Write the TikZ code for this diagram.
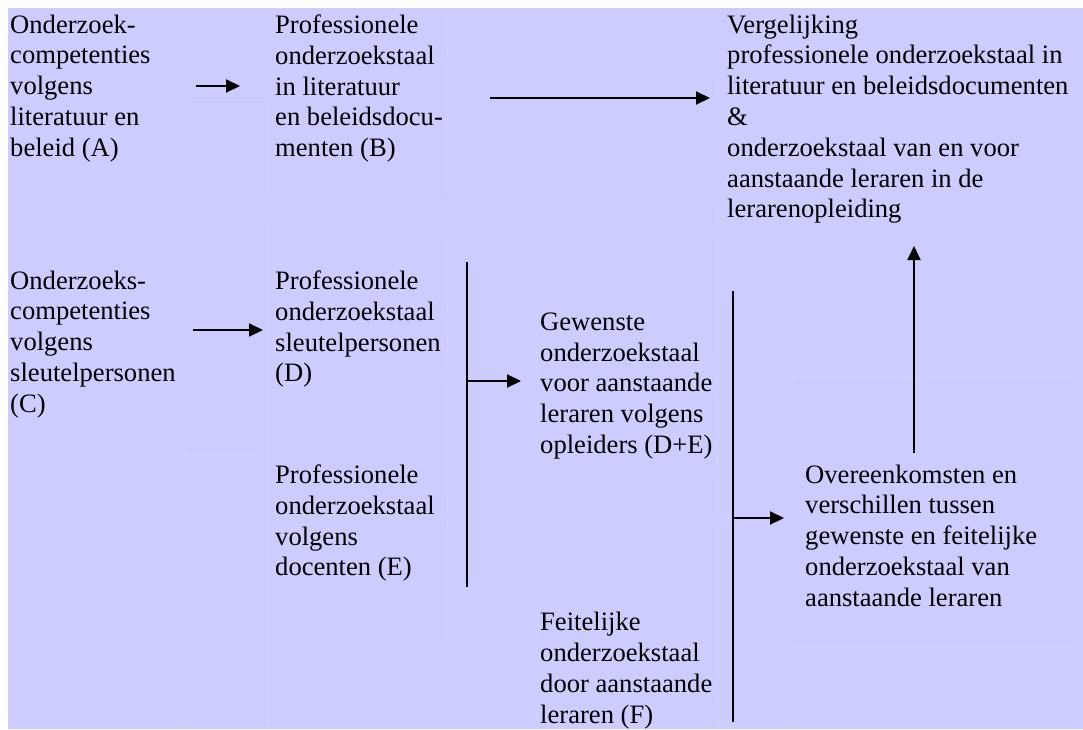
\documentclass[tikz,border=0pt]{standalone}
\usepackage{fontspec}
\setmainfont{Liberation Serif}
\usetikzlibrary{arrows.meta}
\definecolor{bgl}{HTML}{CCCCFF}
\definecolor{gridl}{HTML}{D2D2FF}
\begin{document}
\begin{tikzpicture}[x=1pt,y=-1pt,
  txt/.style={anchor=north west, inner sep=0pt, align=left, font=\fontsize{26.6}{30.8}\selectfont},
  conn/.style={line width=2pt, -{Triangle[length=14pt,width=13pt]}},
  bar/.style={line width=2pt},
  faint/.style={gridl, line width=0.8pt}]
\useasboundingbox (0,0) rectangle (1083,729);
\fill[bgl] (8,8) rectangle (1083,729);
% faint table cell boundaries
\draw[faint] (188,100) -- (267,100);
\draw[faint] (267,100) -- (267,192);
\draw[faint] (8,192) -- (447,192);
\draw[faint] (447,8) -- (447,192);
\draw[faint] (717,40) -- (717,227);
\draw[faint] (267,230) -- (267,455);
\draw[faint] (447,230) -- (447,640);
\draw[faint] (267,383) -- (447,383);
\draw[faint] (185,455) -- (267,455);
\draw[faint] (185,445) -- (185,729);
\draw[faint] (267,455) -- (267,729);
\draw[faint] (537,230) -- (537,729);
\draw[faint] (717,230) -- (717,729);
\draw[faint] (793,230) -- (793,729);
\draw[faint] (793,376) -- (1083,376);
\draw[faint] (793,646) -- (1083,646);
% text blocks
\node[txt] (A) at (10,14.5) {Onderzoek-\\competenties\\volgens\\literatuur en\\beleid (A)};
\node[txt] (B) at (275,14.5) {Professionele\\onderzoekstaal\\in literatuur\\en beleidsdocu-\\menten (B)};
\node[txt] (V) at (727,14.5) {Vergelijking\\professionele onderzoekstaal in\\literatuur en beleidsdocumenten\\\&\\onderzoekstaal van en voor\\aanstaande leraren in de\\lerarenopleiding};
\node[txt] (C) at (10,270.5) {Onderzoeks-\\competenties\\volgens\\sleutelpersonen\\(C)};
\node[txt] (D) at (275,270.5) {Professionele\\onderzoekstaal\\sleutelpersonen\\(D)};
\node[txt] (G) at (540,312.5) {Gewenste\\onderzoekstaal\\voor aanstaande\\leraren volgens\\opleiders (D+E)};
\node[txt] (E) at (275,464.5) {Professionele\\onderzoekstaal\\volgens\\docenten (E)};
\node[txt] (O) at (805,464.5) {Overeenkomsten en\\verschillen tussen\\gewenste en feitelijke\\onderzoekstaal van\\aanstaande leraren};
\node[txt] (F) at (540,612) {Feitelijke\\onderzoekstaal\\door aanstaande\\leraren (F)};
% connector points
\coordinate (ab1) at (196,86);
\coordinate (ab2) at (240,86);
\coordinate (bv1) at (490,98);
\coordinate (bv2) at (710,98);
\coordinate (cd1) at (193,330);
\coordinate (cd2) at (263,330);
\coordinate (j1t) at (467,262);
\coordinate (j1b) at (467,587);
\coordinate (j1m) at (467,381);
\coordinate (j1e) at (521,381);
\coordinate (j2t) at (733,291);
\coordinate (j2b) at (733,722);
\coordinate (j2m) at (733,518);
\coordinate (j2e) at (784,518);
\coordinate (up1) at (914,453);
\coordinate (up2) at (914,246);
% connectors
\draw[conn] (ab1) -- (ab2);
\draw[conn] (bv1) -- (bv2);
\draw[conn] (cd1) -- (cd2);
\draw[bar] (j1t) -- (j1b);
\draw[conn] (j1m) -- (j1e);
\draw[bar] (j2t) -- (j2b);
\draw[conn] (j2m) -- (j2e);
\draw[conn] (up1) -- (up2);
\end{tikzpicture}
\end{document}
